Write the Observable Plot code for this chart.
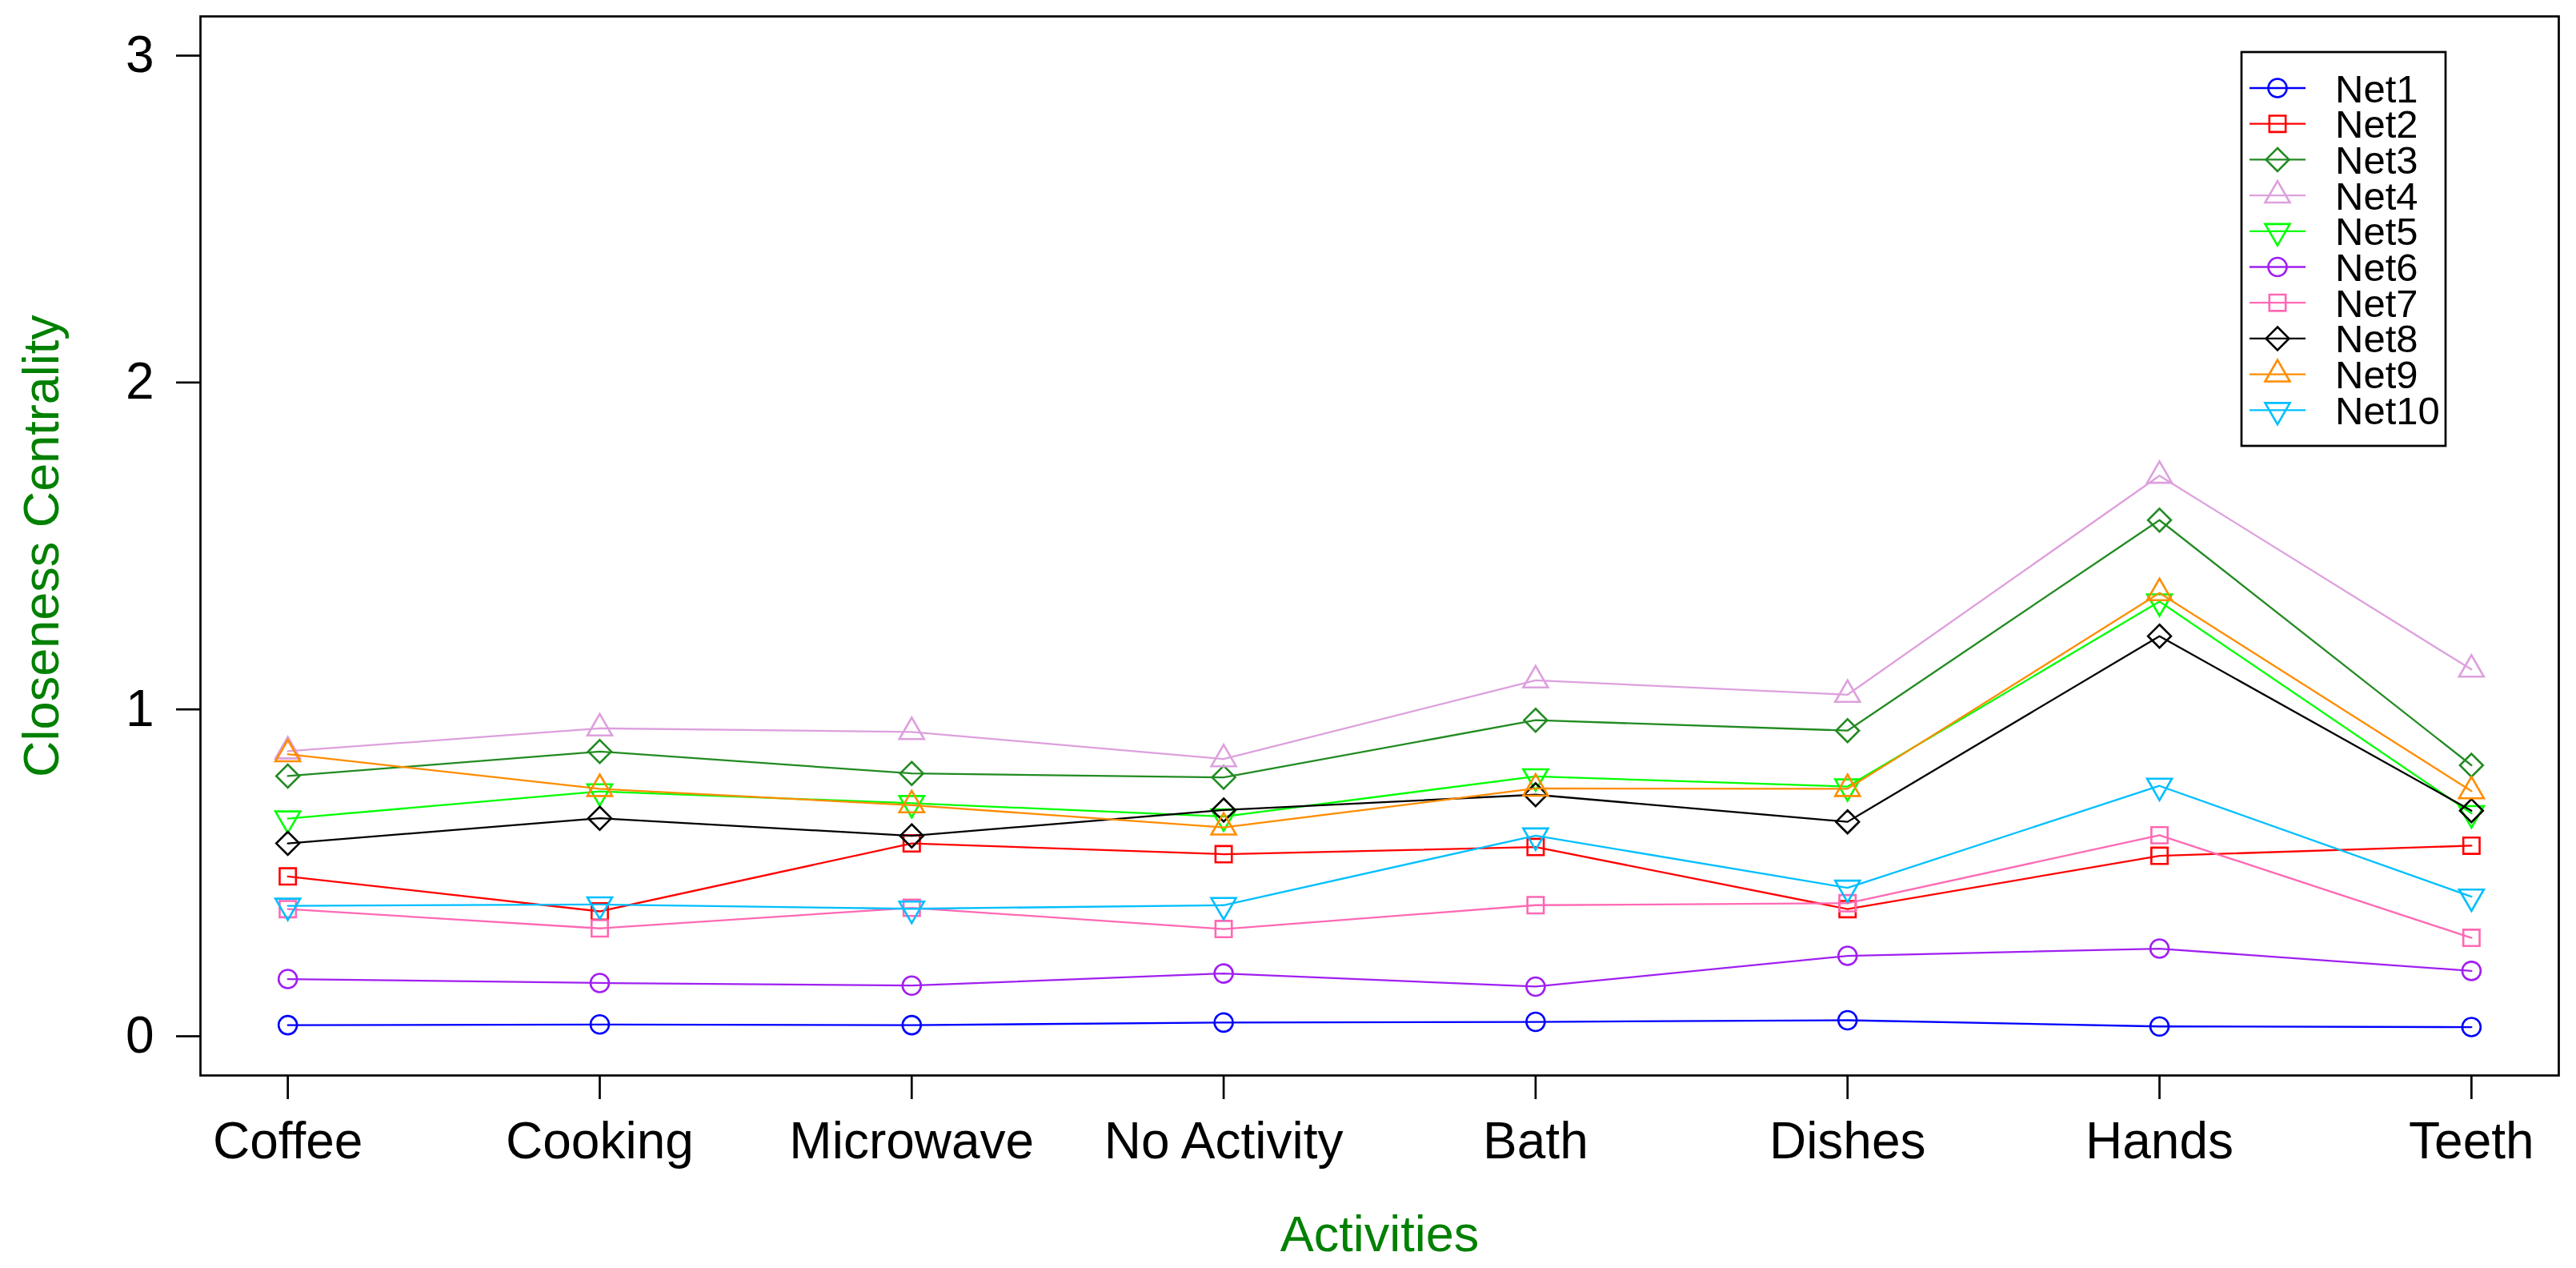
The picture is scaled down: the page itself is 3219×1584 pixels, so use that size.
<!DOCTYPE html>
<html>
<head>
<meta charset="utf-8">
<script src="https://cdn.jsdelivr.net/npm/d3@7"></script>
<script src="https://cdn.jsdelivr.net/npm/@observablehq/plot@0.6"></script>
<style>
  html, body { margin: 0; padding: 0; background: #fff; }
  #wrap { position: relative; width: 3219px; height: 1584px; font-family: "Liberation Sans", Arial, Helvetica, sans-serif; }
  #wrap svg { position: absolute; left: 0; top: 0; }
</style>
</head>
<body>
<div id="wrap"></div>
<script>
// ---- data ----
const activities = ["Coffee", "Cooking", "Microwave", "No Activity", "Bath", "Dishes", "Hands", "Teeth"];
const seriesNames = ["Net1", "Net2", "Net3", "Net4", "Net5", "Net6", "Net7", "Net8", "Net9", "Net10"];
const net1  = [0.034, 0.036, 0.034, 0.042, 0.044, 0.049, 0.030, 0.028];
const net2  = [0.489, 0.382, 0.590, 0.557, 0.579, 0.389, 0.552, 0.583];
const net3  = [0.796, 0.871, 0.804, 0.792, 0.967, 0.935, 1.579, 0.829];
const net4  = [0.872, 0.942, 0.931, 0.848, 1.089, 1.045, 1.715, 1.122];
const net5  = [0.666, 0.749, 0.713, 0.672, 0.795, 0.764, 1.330, 0.682];
const net6  = [0.175, 0.163, 0.155, 0.192, 0.152, 0.246, 0.268, 0.200];
const net7  = [0.389, 0.330, 0.393, 0.328, 0.401, 0.407, 0.615, 0.301];
const net8  = [0.590, 0.667, 0.613, 0.692, 0.739, 0.656, 1.224, 0.690];
const net9  = [0.863, 0.757, 0.707, 0.639, 0.758, 0.757, 1.356, 0.750];
const net10 = [0.399, 0.403, 0.390, 0.401, 0.614, 0.454, 0.766, 0.427];
const seriesValues = [net1, net2, net3, net4, net5, net6, net7, net8, net9, net10];
const seriesColors = ["#0000FF", "#FF0000", "#228B22", "#DDA0DD", "#00FF00", "#A020F0", "#FF69B4", "#000000", "#FF8C00", "#00BFFF"];
const seriesSymbols = ["circle", "square", "diamond", "triangle", "triangleDown", "circle", "square", "diamond", "triangle", "triangleDown"];
const yTicks = [0, 1, 2, 3];

// ---- R-like open symbols (pch 1, 0, 5, 2, 6) ----
const R = 11.5;
const symbolDefs = {
  circle: { draw(c) { const r = R * 1.0; c.moveTo(r, 0); c.arc(0, 0, r, 0, 2 * Math.PI); } },
  square: { draw(c) { const s = R * 0.886; c.moveTo(-s, -s); c.lineTo(s, -s); c.lineTo(s, s); c.lineTo(-s, s); c.closePath(); } },
  diamond: { draw(c) { const d = R * 1.253; c.moveTo(0, -d); c.lineTo(d, 0); c.lineTo(0, d); c.lineTo(-d, 0); c.closePath(); } },
  triangle: { draw(c) { const r = R * 1.555, xc = R * 1.347, yc = R * 0.778; c.moveTo(0, -r); c.lineTo(xc, yc); c.lineTo(-xc, yc); c.closePath(); } },
  triangleDown: { draw(c) { const r = R * 1.555, xc = R * 1.347, yc = R * 0.778; c.moveTo(0, r); c.lineTo(xc, -yc); c.lineTo(-xc, -yc); c.closePath(); } }
};

// ---- table ----
const rows = [];
seriesNames.forEach((name, s) => {
  seriesValues[s].forEach((v, i) => rows.push({ series: name, idx: i + 1, activity: activities[i], value: v }));
});

const n = activities.length;
const xPad = (n - 1) * 0.04;
const yPad = (yTicks[yTicks.length - 1] - yTicks[0]) * 0.04;

const fontFamily = '"Liberation Sans", Arial, Helvetica, sans-serif';
const marks = [];
seriesNames.forEach((name, s) => {
  const data = rows.filter(d => d.series === name);
  marks.push(Plot.lineY(data, { x: "idx", y: "value", stroke: seriesColors[s], strokeWidth: 2.3 }));
  marks.push(Plot.dot(data, { x: "idx", y: "value", stroke: seriesColors[s], fill: "none", strokeWidth: 2.6, symbol: symbolDefs[seriesSymbols[s]] }));
});

const chart = Plot.plot({
  width: 3219,
  height: 1584,
  marginLeft: 250,
  marginRight: 22,
  marginTop: 20,
  marginBottom: 241,
  style: { fontFamily, background: "white", overflow: "visible" },
  x: { type: "linear", domain: [1 - xPad, n + xPad], axis: null },
  y: { type: "linear", domain: [yTicks[0] - yPad, yTicks[yTicks.length - 1] + yPad], axis: null },
  marks: [
    ...marks,
    Plot.frame({ stroke: "black", strokeWidth: 2.7 }),
    Plot.axisY(yTicks, { anchor: "left", tickSize: 30, tickPadding: 28, tickFormat: d => String(d), fontSize: 64, strokeWidth: 2.7, label: null, color: "black" }),
    Plot.axisX(d3.range(1, n + 1), { anchor: "bottom", tickSize: 30, tickPadding: 28, tickFormat: i => activities[i - 1], fontSize: 64, strokeWidth: 2.7, label: null, color: "black" }),
    Plot.text(["Activities"], { frameAnchor: "bottom", dy: 219, lineAnchor: "bottom", textAnchor: "middle", fontSize: 63, fill: "#008000" }),
    Plot.text(["Closeness Centrality"], { frameAnchor: "left", dx: -178, rotate: -90, lineAnchor: "bottom", textAnchor: "middle", fontSize: 63, fill: "#008000" })
  ]
});
document.getElementById("wrap").appendChild(chart);

// ---- legend (layout overlay) ----
const lg = { x: 2801, y: 65, w: 255, h: 492, first: 110, step: 44.7, lx1: 2811, lx2: 2881, sx: 2846, tx: 2918, fs: 49 };
const svg = d3.select("#wrap").append("svg")
  .attr("width", 3219).attr("height", 1584)
  .style("pointer-events", "none");
svg.append("rect").attr("x", lg.x).attr("y", lg.y).attr("width", lg.w).attr("height", lg.h)
  .attr("fill", "white").attr("stroke", "black").attr("stroke-width", 2.7);
seriesNames.forEach((name, s) => {
  const cy = lg.first + s * lg.step;
  const g = svg.append("g");
  g.append("line").attr("x1", lg.lx1).attr("x2", lg.lx2).attr("y1", cy).attr("y2", cy)
    .attr("stroke", seriesColors[s]).attr("stroke-width", 2.3);
  const p = d3.path();
  symbolDefs[seriesSymbols[s]].draw(p);
  g.append("path").attr("d", p.toString()).attr("transform", `translate(${lg.sx},${cy})`)
    .attr("fill", "none").attr("stroke", seriesColors[s]).attr("stroke-width", 2.6);
  g.append("text").attr("x", lg.tx).attr("y", cy + 17.5).attr("font-size", lg.fs)
    .attr("font-family", fontFamily).attr("fill", "black").text(name);
});
</script>
</body>
</html>
